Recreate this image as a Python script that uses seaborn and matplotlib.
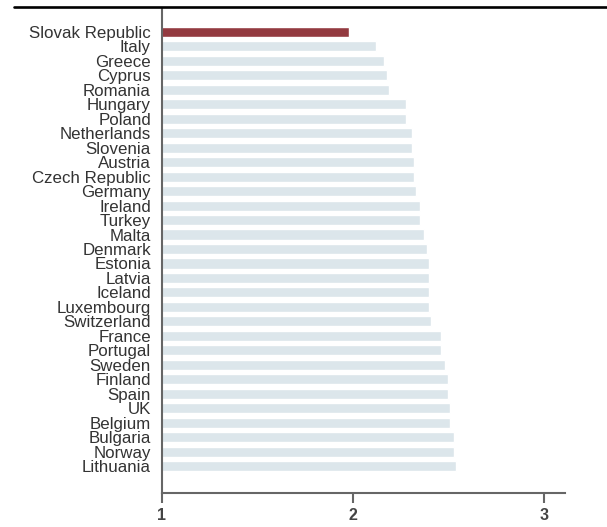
import matplotlib
matplotlib.use("Agg")
import matplotlib.pyplot as plt
from matplotlib.lines import Line2D
import seaborn as sns
import pandas as pd

countries = ["Slovak Republic", "Italy", "Greece", "Cyprus", "Romania", "Hungary",
             "Poland", "Netherlands", "Slovenia", "Austria", "Czech Republic",
             "Germany", "Ireland", "Turkey", "Malta", "Denmark", "Estonia", "Latvia",
             "Iceland", "Luxembourg", "Switzerland", "France", "Portugal", "Sweden",
             "Finland", "Spain", "UK", "Belgium", "Bulgaria", "Norway", "Lithuania"]
values = [1.98, 2.12, 2.16, 2.18, 2.19, 2.28,
          2.28, 2.31, 2.31, 2.32, 2.32,
          2.33, 2.35, 2.35, 2.37, 2.39, 2.40, 2.40,
          2.40, 2.40, 2.41, 2.46, 2.46, 2.48,
          2.50, 2.50, 2.51, 2.51, 2.53, 2.53, 2.54]
highlight = "Slovak Republic"
x_ticks = [1, 2, 3]

HI_COLOR = "#933a40"
BASE_COLOR = "#dce6eb"

sns.set_theme(style="white")
plt.rcParams["font.family"] = ["Liberation Sans Narrow", "Liberation Sans", "DejaVu Sans"]

df = pd.DataFrame({"country": countries, "value": values})
palette = {c: (HI_COLOR if c == highlight else BASE_COLOR) for c in countries}

fig = plt.figure(figsize=(6.07, 5.27), dpi=100)
ax = fig.add_axes([162 / 607, 1 - 493 / 527, (565 - 162) / 607, (493 - 8.5) / 527])

sns.barplot(data=df, x="value", y="country", hue="country", order=countries,
            hue_order=countries, palette=palette, orient="h", width=0.7,
            legend=False, ax=ax, saturation=1)

ax.set_xlim(1, 3.11)
ax.set_ylim(31.86, -1.62)
ax.set_xticks(x_ticks)
ax.set_xticklabels([str(t) for t in x_ticks], fontsize=11.5, color="#444444",
                   fontweight="bold", family=["Liberation Sans", "DejaVu Sans"])
ax.set_xlabel("")
ax.set_ylabel("")
ax.tick_params(axis="x", bottom=True, length=7, width=1.5, color="#666666", pad=4)
ax.tick_params(axis="y", left=False, length=0, pad=8)
for lab in ax.get_yticklabels():
    lab.set_fontsize(12.2)
    lab.set_color("#333333")

for s in ["top", "right"]:
    ax.spines[s].set_visible(False)
for s in ["left", "bottom"]:
    ax.spines[s].set_color("#666666")
    ax.spines[s].set_linewidth(1.5)

fig.add_artist(Line2D([14 / 607, 1.0], [1 - 7.2 / 527, 1 - 7.2 / 527],
                      color="black", linewidth=1.9, transform=fig.transFigure))

fig.savefig("out.png", dpi=100)
